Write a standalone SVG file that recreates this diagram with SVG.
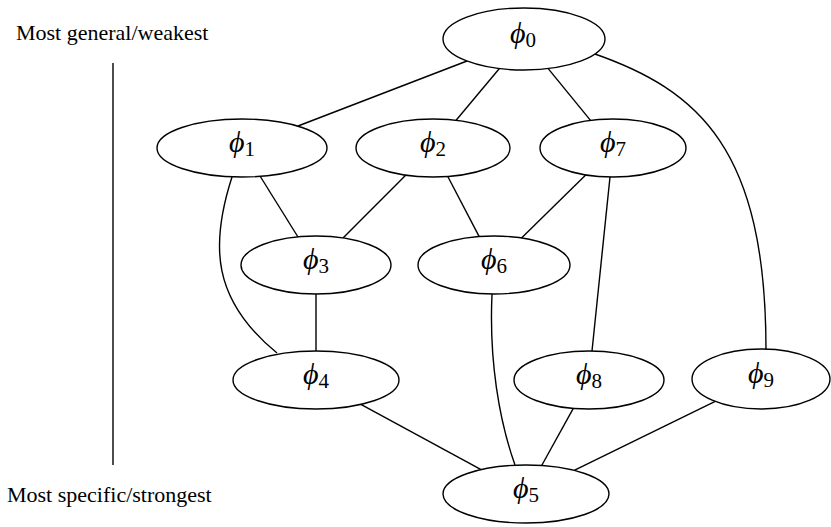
<svg xmlns="http://www.w3.org/2000/svg" width="831" height="527" viewBox="0 0 831 527">
<style>
.node ellipse{fill:#fff;stroke:#000;stroke-width:1.4}
.edge{fill:none;stroke:#000;stroke-width:1.4}
.lbl{font-family:"Liberation Serif","DejaVu Serif",serif;font-size:30px;font-style:italic;fill:#000}
.sub{font-style:normal;font-size:21px}
.txt{font-family:"Liberation Serif","Times New Roman",serif;font-size:22px;fill:#000}
</style>
<rect width="831" height="527" fill="#fff"/>
<text class="txt" x="16" y="40">Most general/weakest</text>
<text class="txt" x="7" y="502">Most specific/strongest</text>
<line class="edge" x1="113" y1="63" x2="113" y2="465"/>
<g id="connectors">
<line class="edge" x1="467" y1="61" x2="298" y2="126"/>
<line class="edge" x1="499.4" y1="68.5" x2="456.1" y2="120.3"/>
<line class="edge" x1="548.2" y1="68.6" x2="590.5" y2="120.4"/>
<path class="edge" d="M 592 53 C 700 90, 766 150, 766 350"/>
<line class="edge" x1="260" y1="176" x2="298" y2="237"/>
<path class="edge" d="M 232 177 C 210 245, 212 300, 277 353"/>
<line class="edge" x1="405.9" y1="175.1" x2="343" y2="238"/>
<line class="edge" x1="447.8" y1="176.5" x2="479.2" y2="236.6"/>
<line class="edge" x1="585.7" y1="174.9" x2="521.5" y2="238"/>
<line class="edge" x1="610" y1="177" x2="592" y2="351"/>
<line class="edge" x1="316" y1="294" x2="316" y2="351"/>
<path class="edge" d="M 492 294 C 489 360, 499 420, 515 465"/>
<line class="edge" x1="360.9" y1="404.4" x2="481.1" y2="469.6"/>
<line class="edge" x1="573.3" y1="408.4" x2="541.7" y2="465.5"/>
<line class="edge" x1="715.2" y1="401.4" x2="574.2" y2="470.4"/>
</g>
<g id="phi0" class="node"><ellipse cx="524" cy="39" rx="81" ry="31"/><text class="lbl" x="523" y="43" text-anchor="middle">ϕ<tspan class="sub" dy="4">0</tspan></text></g>
<g id="phi1" class="node"><ellipse cx="242" cy="148" rx="85" ry="29"/><text class="lbl" x="242" y="152" text-anchor="middle">ϕ<tspan class="sub" dy="4">1</tspan></text></g>
<g id="phi2" class="node"><ellipse cx="433" cy="148" rx="77" ry="29"/><text class="lbl" x="433" y="152" text-anchor="middle">ϕ<tspan class="sub" dy="4">2</tspan></text></g>
<g id="phi7" class="node"><ellipse cx="613" cy="148" rx="73" ry="29"/><text class="lbl" x="613" y="152" text-anchor="middle">ϕ<tspan class="sub" dy="4">7</tspan></text></g>
<g id="phi3" class="node"><ellipse cx="316" cy="265" rx="75" ry="29"/><text class="lbl" x="316" y="269" text-anchor="middle">ϕ<tspan class="sub" dy="4">3</tspan></text></g>
<g id="phi6" class="node"><ellipse cx="494" cy="265" rx="76" ry="29"/><text class="lbl" x="494" y="269" text-anchor="middle">ϕ<tspan class="sub" dy="4">6</tspan></text></g>
<g id="phi4" class="node"><ellipse cx="316" cy="380" rx="83" ry="29"/><text class="lbl" x="316" y="384" text-anchor="middle">ϕ<tspan class="sub" dy="4">4</tspan></text></g>
<g id="phi8" class="node"><ellipse cx="589" cy="380" rx="75" ry="29"/><text class="lbl" x="589" y="384" text-anchor="middle">ϕ<tspan class="sub" dy="4">8</tspan></text></g>
<g id="phi9" class="node"><ellipse cx="761" cy="379" rx="69" ry="30"/><text class="lbl" x="761" y="383" text-anchor="middle">ϕ<tspan class="sub" dy="4">9</tspan></text></g>
<g id="phi5" class="node"><ellipse cx="526" cy="494" rx="83" ry="29"/><text class="lbl" x="526" y="498" text-anchor="middle">ϕ<tspan class="sub" dy="4">5</tspan></text></g>
</svg>
